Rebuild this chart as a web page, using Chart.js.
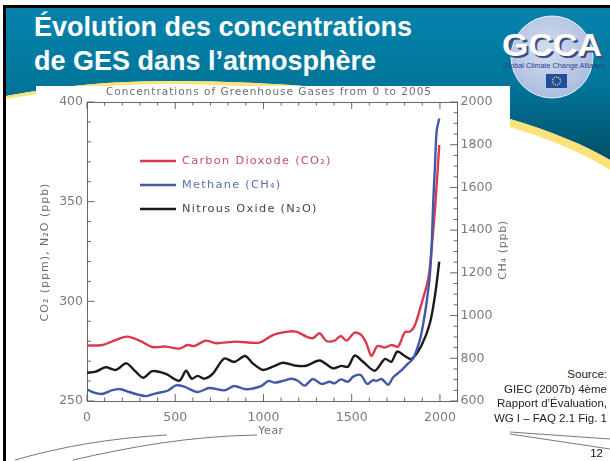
<!DOCTYPE html>
<html lang="fr"><head><meta charset="utf-8">
<script src="https://cdn.jsdelivr.net/npm/chart.js@4"></script>
<style>
html,body{margin:0;padding:0;background:#fff;width:610px;height:461px;overflow:hidden}
#bg{position:absolute;left:0;top:0}
#panel{position:absolute;left:36px;top:86px;width:474px;height:316px;background:#fff}
#c{position:absolute;left:36px;top:86px;filter:blur(.55px)}
.t{position:absolute;left:34px;color:#fff;font:bold 27px "Liberation Sans",Arial,sans-serif;white-space:nowrap}
.s{position:absolute;right:3px;color:#222;font:11.5px "Liberation Sans",Arial,sans-serif;white-space:nowrap;text-align:right}
</style></head><body>
<svg id="bg" width="610" height="461" viewBox="0 0 610 461">
<defs>
<linearGradient id="g" x1="0" y1="0" x2="0" y2="1"><stop offset="0" stop-color="#0583ad"/><stop offset=".5" stop-color="#02769a"/><stop offset="1" stop-color="#004f68"/></linearGradient>
<radialGradient id="o" cx=".45" cy=".4" r=".7"><stop offset="0" stop-color="#d3dcef"/><stop offset="1" stop-color="#a5b8dc"/></radialGradient>
</defs>
<path d="M6 8H610V160C585 145 550 131 510 119C430 95 300 81 170 81C110 81 60 86 6 96Z" fill="url(#g)"/>
<path d="M6 96C60 86 110 81 170 81C300 81 430 95 510 119C550 131 585 145 610 160V170C585 154 550 139 510 127C430 103 300 85 170 84C110 84 60 90 6 99Z" fill="#fde27a"/>
<rect x="3" y="5" width="607" height="3" fill="#000"/>
<rect x="3" y="5" width="3" height="456" fill="#000"/>
<circle cx="552" cy="57" r="41" fill="url(#o)" stroke="#e8eef8" stroke-width="1"/>
<text x="554" y="57.5" text-anchor="middle" textLength="100" lengthAdjust="spacingAndGlyphs" font-family="Liberation Sans" font-weight="bold" font-size="32" fill="#3c4a7c">GCCA</text>
<text x="552" y="56" text-anchor="middle" textLength="100" lengthAdjust="spacingAndGlyphs" font-family="Liberation Sans" font-weight="bold" font-size="32" fill="#fff">GCCA</text>
<text x="554" y="68" text-anchor="middle" textLength="102" lengthAdjust="spacingAndGlyphs" font-family="Liberation Sans" font-size="6.5" fill="#2a3f8f">Global Climate Change Alliance</text>
<rect x="546" y="74" width="21" height="14" fill="#1c4fa0"/>
<circle cx="556.5" cy="81" r="4" fill="none" stroke="#e6d34a" stroke-width="1.4" stroke-dasharray="1.2 1"/>
<path d="M15 460C60 447 110 438 167 435" fill="none" stroke="#555" stroke-width=".8"/>
<path d="M73 460C130 447 190 436 257 435" fill="none" stroke="#555" stroke-width=".8"/>
<path d="M510 432L610 439M510 434L610 449" fill="none" stroke="#555" stroke-width=".8"/>
</svg>
<div class="t" style="top:12px">Évolution des concentrations</div>
<div class="t" style="top:46px">de GES dans l’atmosphère</div>
<div id="panel"></div>
<canvas id="c" width="474" height="352"></canvas>
<div class="s" style="top:368px">Source:</div>
<div class="s" style="top:383px">GIEC (2007b) 4ème</div>
<div class="s" style="top:397px">Rapport d’Évaluation,</div>
<div class="s" style="top:412px">WG I – FAQ 2.1 Fig. 1</div>
<div class="s" style="top:447px;right:7px;color:#111">12</div>
<script>
const co2Years=[0,87,163,229,305,371,447,523,570,608,674,731,845,977,1053,1138,1186,1243,1280,1318,1356,1403,1438,1470,1517,1555,1583,1612,1646,1688,1725,1763,1801,1830,1858,1896,1934,1953,1972,1985,1996];
const co2Values=[277.8,278.1,280.6,282.3,280,277.1,277.3,276.3,278.1,277.6,280.3,279,279.8,279.3,283.1,284.8,284.8,282.3,281.5,284,280.1,280.3,282.6,280.3,284.3,283.1,279,272.6,277.6,276.8,278.1,277.3,284.5,284.8,288,299,311.5,326.5,346.6,363.3,378.4];
const ch4Years=[0,40,87,144,191,239,333,390,456,504,551,627,693,778,835,901,987,1028,1063,1110,1157,1195,1233,1280,1328,1375,1403,1438,1479,1508,1551,1587,1621,1640,1669,1707,1735,1773,1820,1849,1886,1905,1924,1943,1953,1962,1972,1981,1996];
const ch4Values=[654,639,633,651,655,642,623,636,648,673,667,642,661,650,670,655,670,694,686,694,704,695,672,703,680,690,683,701,690,714,722,680,698,694,703,676,711,737,776,800,885,960,1060,1190,1330,1533,1705,1861,1923];
const n2oYears=[0,49,106,163,223,276,318,371,447,523,561,593,627,665,712,778,835,896,939,996,1053,1110,1186,1243,1318,1394,1441,1479,1517,1564,1631,1688,1725,1758,1801,1839,1896,1943,1972,1996];
const n2oValues=[264.2,264.7,266.9,265.6,268.9,264.7,261.7,265,263.6,260.2,265.2,261.2,262.6,261.2,263.6,271.3,269.6,272.6,268.9,265.6,267.2,269.2,267.7,267.7,270.3,266.4,267.6,267.2,272.8,269.7,265.2,271.1,269.7,274.8,272.6,271.1,278,289,303,319.9];
const seriesLabels=["Carbon Dioxode (CO₂)","Methane (CH₄)","Nitrous Oxide (N₂O)"];
const chartTitle="Concentrations of Greenhouse Gases from 0 to 2005";
const leftTitle="CO₂ (ppm), N₂O (ppb)", rightTitle="CH₄ (ppb)", bottomTitle="Year";
const zip=(a,b)=>a.map((x,i)=>({x,y:b[i]}));
const GREY="#6e6e6e", FONT="DejaVu Sans";
const inward={id:"inward",afterDraw(ch){
  const g=ch.ctx,a=ch.chartArea;g.save();g.strokeStyle="#666";g.lineWidth=1;
  const tick=(x1,y1,x2,y2)=>{g.beginPath();g.moveTo(x1,y1);g.lineTo(x2,y2);g.stroke();};
  const xs=ch.scales.x;xs.ticks.forEach(t=>{const p=xs.getPixelForValue(t.value),l=t.value%500==0?7:3.5;tick(p,a.bottom,p,a.bottom-l);tick(p,a.top,p,a.top+l);});
  const yl=ch.scales.y;yl.ticks.forEach(t=>{const p=yl.getPixelForValue(t.value),l=t.value%50==0?7.5:4;tick(a.left,p,a.left+l,p);});
  const yr=ch.scales.y2;yr.ticks.forEach(t=>{const p=yr.getPixelForValue(t.value),l=t.value%200==0?7.5:4;tick(a.right,p,a.right-l,p);});
  g.fillStyle=GREY;g.textBaseline="middle";g.textAlign="center";
  g.letterSpacing="1px";g.font="10.5px "+FONT;g.fillText(chartTitle,233,6.5);
  g.letterSpacing="0.5px";g.font="11px "+FONT;g.fillText(bottomTitle,235,345);
  const rot=(s,x,y)=>{g.save();g.translate(x,y);g.rotate(-Math.PI/2);g.fillText(s,0,0);g.restore();};
  g.letterSpacing="1px";rot(leftTitle,9,166);g.letterSpacing="0.7px";rot(rightTitle,467,164);
  g.textAlign="left";g.letterSpacing="1.3px";g.font="11.3px "+FONT;
  ch.data.datasets.forEach((d,i)=>{const y=75+24*i;g.strokeStyle=d.borderColor;g.lineWidth=2.5;
    tick(104,y,140,y);g.fillStyle=d.legendText;g.fillText(d.label,146,y);});
  g.restore();
}};
new Chart(document.getElementById("c"),{type:"line",
 data:{datasets:[
  {label:seriesLabels[0],data:zip(co2Years,co2Values),yAxisID:"y",borderColor:"#d93a4c",legendText:"#c8505e",order:3},
  {label:seriesLabels[1],data:zip(ch4Years,ch4Values),yAxisID:"y2",borderColor:"#4059a8",legendText:"#5a6fb0",order:1},
  {label:seriesLabels[2],data:zip(n2oYears,n2oValues),yAxisID:"y",borderColor:"#1a1a1a",legendText:"#444",order:2}]},
 options:{responsive:false,animation:false,
  layout:{padding:0},
  elements:{point:{radius:0},line:{borderWidth:2.4,tension:.3}},
  plugins:{legend:{display:false},title:{display:false},tooltip:{enabled:false}},
  scales:{
   x:{type:"linear",position:"bottom",min:0,max:2100,grid:{display:false,drawTicks:false},border:{color:"#666"},
      afterFit:s=>{s.height=37;},
      ticks:{stepSize:100,autoSkip:false,maxRotation:0,padding:9,color:"#7a7a7a",font:{family:FONT,size:12.5},callback:v=>v%500==0&&v<=2000?String(v):""}},
   xt:{type:"linear",position:"top",min:0,max:2100,grid:{display:false,drawTicks:false},border:{color:"#666"},
      afterFit:s=>{s.height=16;},ticks:{display:false}},
   y:{type:"linear",position:"left",min:250,max:400,grid:{display:false,drawTicks:false},border:{color:"#666"},
      afterFit:s=>{s.width=51;},
      ticks:{stepSize:10,autoSkip:false,padding:4,color:"#7a7a7a",font:{family:FONT,size:12.5},callback:v=>v%50==0?String(v):""}},
   y2:{type:"linear",position:"right",min:600,max:2000,grid:{display:false,drawTicks:false},border:{color:"#666"},
      afterFit:s=>{s.width=52.4;},
      ticks:{stepSize:50,autoSkip:false,padding:3,color:"#7a7a7a",font:{family:FONT,size:12.5},callback:v=>v%200==0?String(v):""}}
  }},
 plugins:[inward]});
</script>
</body></html>
